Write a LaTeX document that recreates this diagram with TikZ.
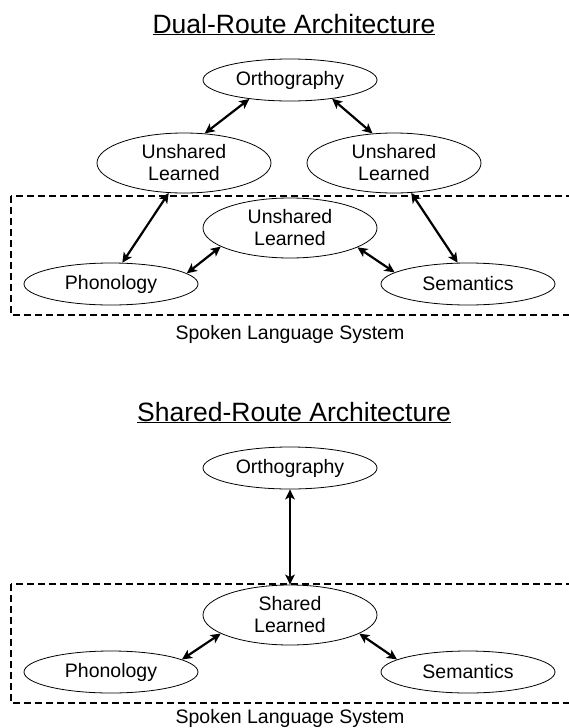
\documentclass[tikz,border=0pt]{standalone}
\usepackage{fontspec}
\setmainfont{Liberation Sans}
\usetikzlibrary{shapes.geometric,arrows.meta}
\tikzset{
  el/.style={draw, line width=0.8pt, ellipse, inner sep=0pt, minimum width=174pt, minimum height=42pt,
             align=center, font=\fontsize{19.5}{22}\selectfont},
  el2/.style={el, minimum height=60pt},
  link/.style={line width=2.2pt, {Stealth[length=10pt,width=9.5pt,inset=2.5pt]}-{Stealth[length=10pt,width=9.5pt,inset=2.5pt]}},
  ttl/.style={anchor=base, inner sep=0pt, font=\fontsize{26.5}{30}\selectfont},
  lbl/.style={anchor=base, inner sep=0pt, font=\fontsize{19.5}{22}\selectfont},
  sys/.style={dash pattern=on 7pt off 4pt, line width=1.5pt}
}
\begin{document}
\begin{tikzpicture}[x=1pt,y=-1pt]
\useasboundingbox (0,0) rectangle (568,728);
% ---------- Dual-Route ----------
\node[ttl] (t1) at (294,33) {\underline{Dual-Route Architecture}};
\draw[sys] (11,196) rectangle (580,315);
\node[el] (o1) at (290,80) {Orthography};
\node[el2] (ul1) at (184,163) {Unshared\\Learned};
\node[el2] (ur1) at (394,163) {Unshared\\Learned};
\node[el2] (um1) at (290,228) {Unshared\\Learned};
\node[el] (ph1) at (111,284) {Phonology};
\node[el] (se1) at (468,284) {Semantics};
\node[lbl] (s1) at (290,339) {Spoken Language System};
\draw[link] (o1.205) -- (ul1.55);
\draw[link] (o1.336) -- (ur1.126);
\draw[link] (ul1.243) -- (ph1.62);
\draw[link] (ur1.300) -- (se1.116);
\draw[link] (ph1.8) -- (um1.195);
\draw[link] (um1.344) -- (se1.171);
% ---------- Shared-Route ----------
\node[ttl] (t2) at (294,421) {\underline{Shared-Route Architecture}};
\draw[sys] (11,584) rectangle (580,703);
\node[el] (o2) at (290,468) {Orthography};
\node[el2] (sl2) at (290,615) {Shared\\Learned};
\node[el] (ph2) at (111,672) {Phonology};
\node[el] (se2) at (468,672) {Semantics};
\node[lbl] (s2) at (290,723) {Spoken Language System};
\draw[link] (o2.south) -- (sl2.north);
\draw[link] (ph2.10) -- (sl2.195);
\draw[link] (sl2.345) -- (se2.170);
\end{tikzpicture}
\end{document}
